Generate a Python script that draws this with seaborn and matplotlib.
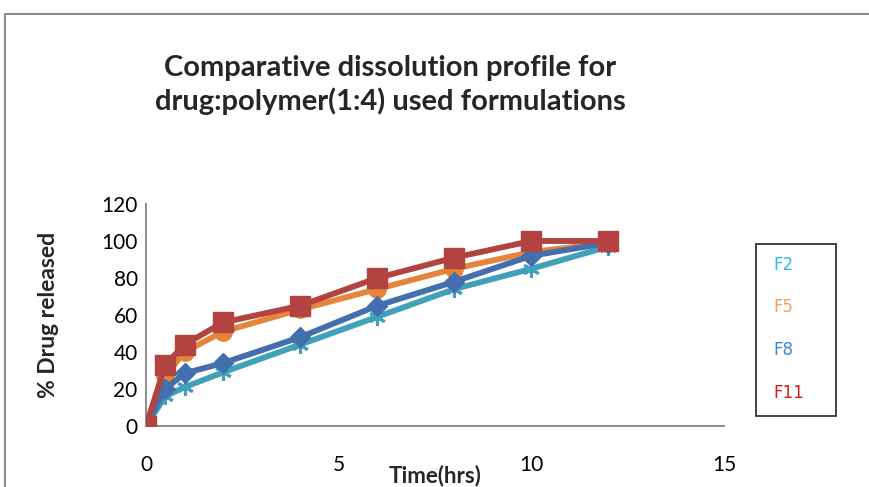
import matplotlib
matplotlib.use("Agg")
import matplotlib.pyplot as plt
import seaborn as sns
import pandas as pd
from matplotlib.lines import Line2D
from matplotlib.patches import Rectangle

time_hrs = [0, 0.5, 1, 2, 4, 6, 8, 10, 12]
f2 = [0, 16, 21, 29, 44, 59, 74, 85, 97]
f5 = [0, 27, 40, 51, 63, 74, 85, 94, 99]
f8 = [0, 20, 28.5, 34, 48, 65, 78, 92, 99]
f11 = [0, 33, 44, 56, 65, 80, 91, 100, 100]
series_names = ["F2", "F5", "F8", "F11"]

line_colors = {"F2": "#41A0BA", "F5": "#E5843B", "F8": "#4370AC", "F11": "#B24341"}
text_colors = {"F2": "#2EB5EE", "F5": "#F5A05A", "F8": "#3A87C8", "F11": "#CC2222"}
markers = {"F2": (6, 2, 0), "F5": "o", "F8": "D", "F11": "s"}
msizes = {"F2": 12, "F5": 12.5, "F8": 10.5, "F11": 14}

rows = []
for name, vals in zip(series_names, [f2, f5, f8, f11]):
    for t, v in zip(time_hrs, vals):
        rows.append({"Time": t, "Release": v, "Formulation": name})
df = pd.DataFrame(rows)

sns.set_theme(style="white")
plt.rcParams["font.family"] = ["Lato", "DejaVu Sans"]

W, H = 870, 487
fig = plt.figure(figsize=(8.7, 4.87), dpi=100)
ax = fig.add_axes([146 / W, 1 - 426 / H, 578 / W, 222 / H])

for name in series_names:
    sub = df[df["Formulation"] == name]
    sns.lineplot(data=sub, x="Time", y="Release", ax=ax, color=line_colors[name],
                 linewidth=4.2, marker=markers[name], markersize=msizes[name],
                 markeredgecolor=line_colors[name], markeredgewidth=2.2 if name == "F2" else 1,
                 markerfacecolor=line_colors[name], legend=False, zorder=3)

ax.set_xlim(0, 15)
ax.set_ylim(0, 120)
ax.set_xticks([0, 5, 10, 15])
ax.set_yticks([0, 20, 40, 60, 80, 100, 120])
ax.tick_params(axis="both", length=0, labelsize=15, colors="black")
ax.tick_params(axis="x", pad=21)
ax.tick_params(axis="y", pad=6)
for s in ["top", "right"]:
    ax.spines[s].set_visible(False)
for s in ["left", "bottom"]:
    ax.spines[s].set_color("#8C8C8C")
    ax.spines[s].set_linewidth(1.4)
for lab in ax.get_xticklabels() + ax.get_yticklabels():
    lab.set_clip_on(False)

ax.set_xlabel("Time(hrs)", fontsize=16, fontweight="bold")
ax.xaxis.set_label_coords(0.5, -0.172)
ax.set_ylabel("% Drug released", fontsize=16.5, fontweight="bold")
ax.yaxis.set_label_coords(-0.15, 0.5)

fig.text(390 / W, 1 - 85 / H,
         "Comparative dissolution profile for\ndrug:polymer(1:4) used formulations",
         ha="center", va="center", fontsize=21, fontweight="bold", linespacing=1.3)

# legend box with coloured entries
fig.add_artist(Rectangle((756 / W, 1 - 416 / H), 80 / W, 172 / H, transform=fig.transFigure,
                         fill=False, edgecolor="#222222", linewidth=1.2))
for name, yp in zip(series_names, [265, 307, 350, 393]):
    fig.text(773 / W, 1 - yp / H, name, color=text_colors[name], fontsize=12,
             ha="left", va="center", family=["DejaVu Sans"])

# outer chart-area frame
fig.add_artist(Line2D([5 / W, 5 / W], [0, 1 - 14 / H], transform=fig.transFigure,
                      color="#8C8C8C", linewidth=1.5))
fig.add_artist(Line2D([5 / W, 1], [1 - 14 / H, 1 - 14 / H], transform=fig.transFigure,
                      color="#8C8C8C", linewidth=1.5))

fig.savefig("out.png", dpi=100)
